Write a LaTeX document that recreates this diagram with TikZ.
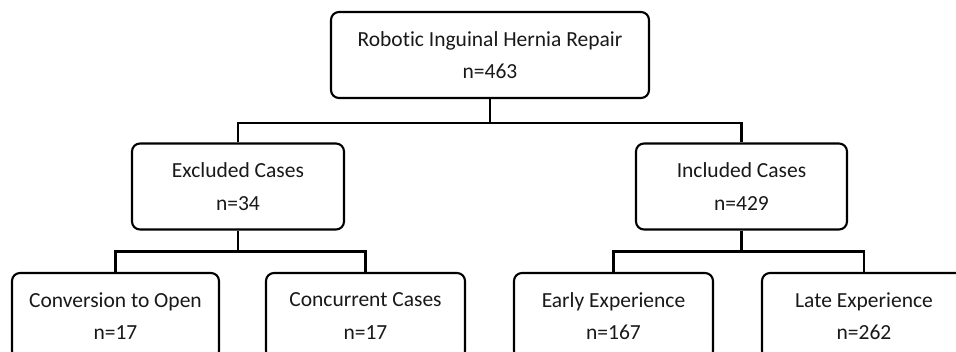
\documentclass[tikz,border=0pt]{standalone}
\usepackage{fontspec}
\setmainfont{Carlito}[Ligatures={NoCommon}]
\begin{document}
\begin{tikzpicture}[x=1pt,y=-1pt,
  box/.style={draw=black, line width=2.1pt, rounded corners=8pt, fill=white,
    minimum height=86pt, inner sep=0pt, align=center,
    font=\fontsize{21.5}{32.5}\selectfont, text=black!90},
  link/.style={draw=black, line width=2.1pt}]
\clip (0,0) rectangle (956,352);
\useasboundingbox (0,0) rectangle (956,352);
\node[box, minimum width=318pt] (top) at (490,55) {Robotic Inguinal Hernia Repair\\n=463};
\node[box, minimum width=212pt] (excl) at (238,186.5) {Excluded Cases\\n=34};
\node[box, minimum width=211pt] (incl) at (741.5,186.5) {Included Cases\\n=429};
\node[box, minimum width=207pt] (conv) at (115.5,316) {Conversion to Open\\n=17};
\node[box, minimum width=199pt] (conc) at (365.5,316) {Concurrent Cases\\n=17};
\node[box, minimum width=199pt] (early) at (613.5,316) {Early Experience\\n=167};
\node[box, minimum width=204pt] (late) at (864,316) {Late Experience\\n=262};
\draw[link] (top.south) -- ++(0,24) coordinate (j1);
\draw[link] (excl.north) |- (j1) -| (incl.north);
\draw[link] (excl.south) -- ++(0,21) coordinate (j2);
\draw[link] (conv.north) |- (j2) -| (conc.north);
\draw[link] (incl.south) -- ++(0,21) coordinate (j3);
\draw[link] (early.north) |- (j3) -| (late.north);
\end{tikzpicture}
\end{document}
